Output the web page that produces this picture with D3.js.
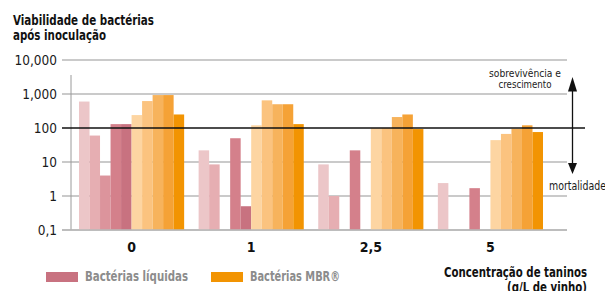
<!DOCTYPE html>
<html>
<head>
<meta charset="utf-8">
<script src="https://cdn.jsdelivr.net/npm/d3@7"></script>
<style>
  html, body { margin: 0; padding: 0; background: #ffffff; }
  svg { display: block; }
</style>
</head>
<body>
<svg id="chart" width="605" height="291"></svg>
<script>
const concentrations = ['0', '1', '2,5', '5'];

// one array per bar shade, one value per concentration (null = no bar)
const liquidas = [
  [600, 22, 8.5, 2.4],
  [60, 8.5, 1, null],
  [4, null, null, null],
  [130, 50, 22, 1.7],
  [130, 0.5, null, null]
];
const mbr = [
  [240, 120, 100, 44],
  [620, 650, 100, 67],
  [930, 500, 210, 95],
  [930, 500, 250, 120],
  [250, 130, 93, 76]
];

const yTicks = [0.1, 1, 10, 100, 1000, 10000];
const yTickLabels = ['0,1', '1', '10', '100', '1,000', '10,000'];
const threshold = 100;

const pinks = ['#ecc6c8', '#e6aeb2', '#dc949c', '#d4808b', '#c87280'];
const oranges = ['#fdd5a2', '#fbc37f', '#f7b35c', '#f5a236', '#f29402'];

const FONT = '"Liberation Sans Narrow", "DejaVu Sans Condensed", "Roboto Condensed", sans-serif';

const svg = d3.select('#chart');

const y = d3.scaleLog()
  .domain([0.1, 10000])
  .range([230, 60]);

const x = d3.scaleBand()
  .domain(concentrations)
  .range([79, 543])
  .paddingInner(0.121)
  .paddingOuter(0);

const series = liquidas.map((vals, i) => ({ vals, color: pinks[i] }))
  .concat(mbr.map((vals, i) => ({ vals, color: oranges[i] })));

const inner = d3.scaleBand()
  .domain(d3.range(series.length))
  .range([0, x.bandwidth()]);

// squeeze a text to the width it has in the print
function fit(sel, w) {
  return sel.attr('textLength', w).attr('lengthAdjust', 'spacingAndGlyphs');
}

// title
const title = svg.append('text')
  .attr('fill', '#111111')
  .attr('font-size', 14)
  .attr('font-weight', 700)
  .attr('font-family', FONT);
fit(title.append('tspan').attr('x', 13).attr('y', 25).text('Viabilidade de bactérias'), 141);
fit(title.append('tspan').attr('x', 13).attr('y', 40).text('após inoculação'), 93);

// gridlines
yTicks.filter((t) => t !== threshold).forEach((t) => {
  svg.append('line')
    .attr('x1', 62)
    .attr('x2', 567)
    .attr('y1', y(t))
    .attr('y2', y(t))
    .attr('stroke', '#b9b9b9')
    .attr('stroke-width', 1.5);
});

// vertical axis line
svg.append('line')
  .attr('x1', 71)
  .attr('x2', 71)
  .attr('y1', 75)
  .attr('y2', y(0.1))
  .attr('stroke', '#9a9a9a')
  .attr('stroke-width', 1);

// y tick labels
yTicks.forEach((t, i) => {
  svg.append('text')
    .attr('x', 57)
    .attr('y', y(t))
    .attr('dy', '0.35em')
    .attr('text-anchor', 'end')
    .attr('fill', '#1a1a1a')
    .attr('font-size', 13.5)
    .attr('font-family', FONT)
    .text(yTickLabels[i]);
});

// bars
series.forEach((s, si) => {
  s.vals.forEach((v, ci) => {
    if (v === null) return;
    svg.append('rect')
      .attr('x', x(concentrations[ci]) + inner(si))
      .attr('y', y(v))
      .attr('width', inner.bandwidth())
      .attr('height', y(0.1) - y(v))
      .attr('fill', s.color);
  });
});

// baseline
svg.append('line')
  .attr('x1', 62)
  .attr('x2', 567)
  .attr('y1', y(0.1))
  .attr('y2', y(0.1))
  .attr('stroke', '#b9b9b9')
  .attr('stroke-width', 1.5);

// threshold line
svg.append('line')
  .attr('x1', 62)
  .attr('x2', 585)
  .attr('y1', y(threshold))
  .attr('y2', y(threshold))
  .attr('stroke', '#111111')
  .attr('stroke-width', 1.3);

// x labels
concentrations.forEach((c) => {
  svg.append('text')
    .attr('x', x(c) + x.bandwidth() / 2)
    .attr('y', 252)
    .attr('text-anchor', 'middle')
    .attr('fill', '#111111')
    .attr('font-size', 14)
    .attr('font-weight', 700)
    .attr('font-family', FONT)
    .text(c);
});

// arrow
const ax = 572.5;
svg.append('line')
  .attr('x1', ax).attr('x2', ax)
  .attr('y1', 88).attr('y2', 166)
  .attr('stroke', '#111111')
  .attr('stroke-width', 1.3);
svg.append('path')
  .attr('d', `M${ax},77 L${ax - 4.5},91.5 L${ax + 4.5},91.5 Z`)
  .attr('fill', '#111111');
svg.append('path')
  .attr('d', `M${ax},174 L${ax - 4.5},163 L${ax + 4.5},163 Z`)
  .attr('fill', '#111111');

[['sobrevivência e', 76.5, 72], ['crescimento', 87.5, 53]].forEach(([t, yy, w]) => {
  fit(svg.append('text')
    .attr('x', 525)
    .attr('y', yy)
    .attr('text-anchor', 'middle')
    .attr('fill', '#1a1a1a')
    .attr('font-size', 11)
    .attr('font-family', FONT)
    .text(t), w);
});

fit(svg.append('text')
  .attr('x', 549)
  .attr('y', 190)
  .attr('fill', '#1a1a1a')
  .attr('font-size', 12)
  .attr('font-family', FONT)
  .text('mortalidade'), 57);

// x axis title
const xt = svg.append('text')
  .attr('text-anchor', 'end')
  .attr('fill', '#111111')
  .attr('font-size', 14)
  .attr('font-weight', 700)
  .attr('font-family', FONT);
fit(xt.append('tspan').attr('x', 587).attr('y', 277).text('Concentração de taninos'), 143);
fit(xt.append('tspan').attr('x', 587).attr('y', 291.5).text('(g/L de vinho)'), 80);

// legend
const legendItems = [
  { label: 'Bactérias líquidas', color: pinks[4], x: 46, w: 103 },
  { label: 'Bactérias MBR®', color: oranges[4], x: 211, w: 90 }
];
legendItems.forEach((item) => {
  svg.append('rect')
    .attr('x', item.x)
    .attr('y', 272)
    .attr('width', 32)
    .attr('height', 10)
    .attr('fill', item.color);
  fit(svg.append('text')
    .attr('x', item.x + 39)
    .attr('y', 281)
    .attr('fill', '#8c8c8c')
    .attr('font-size', 14.5)
    .attr('font-weight', 700)
    .attr('font-family', FONT)
    .text(item.label), item.w);
});
</script>
</body>
</html>
